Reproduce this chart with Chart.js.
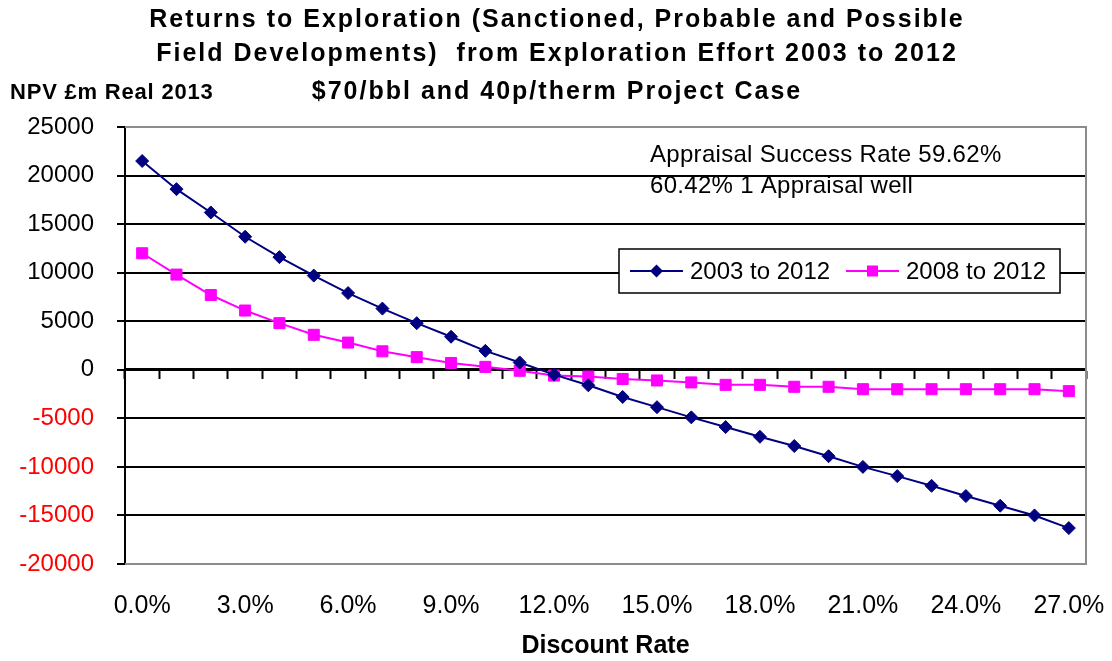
<!DOCTYPE html>
<html lang="en">
<head>
  <meta charset="UTF-8">
  <title>Returns to Exploration - NPV by Discount Rate</title>
  <script src="https://cdn.jsdelivr.net/npm/chart.js"></script>
  <style>
    body {
      margin: 0;
      background: #fff;
    }
    .chart-box {
      width: 1112px;
      height: 661px;
      position: relative;
    }
  </style>
</head>
<body>
<div class="chart-box"><canvas id="npvChart"></canvas></div>

<script>
  const rates = ['0.0%', '1.0%', '2.0%', '3.0%', '4.0%', '5.0%', '6.0%', '7.0%', '8.0%', '9.0%',
    '10.0%', '11.0%', '12.0%', '13.0%', '14.0%', '15.0%', '16.0%', '17.0%', '18.0%', '19.0%',
    '20.0%', '21.0%', '22.0%', '23.0%', '24.0%', '25.0%', '26.0%', '27.0%'];

  const npv2003 = [21500, 18600, 16200, 13700, 11600, 9700, 7900, 6300, 4800, 3400,
    1950, 750, -500, -1600, -2800, -3850, -4900, -5900, -6900, -7850,
    -8900, -10000, -10950, -11950, -13000, -14000, -15000, -16300];

  const npv2008 = [12000, 9800, 7700, 6100, 4800, 3600, 2800, 1900, 1300, 700,
    300, -100, -600, -700, -950, -1100, -1300, -1550, -1550, -1750,
    -1750, -2000, -2000, -2000, -2000, -2000, -2000, -2200];

  const seriesNames = ['2003 to 2012', '2008 to 2012'];
  const titleLines = ['Returns to Exploration (Sanctioned, Probable and Possible',
    'Field Developments)  from Exploration Effort 2003 to 2012',
    '$70/bbl and 40p/therm Project Case'];
  const yLabel = 'NPV £m Real 2013';
  const xLabel = 'Discount Rate';
  const noteLines = ['Appraisal Success Rate 59.62%', '60.42% 1 Appraisal well'];

  const FONT = 'Arial, "Liberation Sans", sans-serif';

  // frame, titles, legend box and the loose texts
  const extras = {
    id: 'extras',
    beforeDatasetsDraw(chart) {
      const { ctx, chartArea: a } = chart;
      ctx.save();
      ctx.strokeStyle = '#8c8c8c';
      ctx.lineWidth = 2;
      ctx.beginPath();
      ctx.moveTo(a.left, a.top);
      ctx.lineTo(a.right, a.top);
      ctx.lineTo(a.right, a.bottom);
      ctx.lineTo(a.left, a.bottom);
      ctx.stroke();
      ctx.restore();
    },
    afterDraw(chart) {
      const ctx = chart.ctx;
      ctx.save();
      ctx.fillStyle = '#000';
      ctx.textBaseline = 'middle';

      // title (the original is a bit letter-spaced)
      ctx.font = 'bold 25px ' + FONT;
      ctx.textAlign = 'center';
      ctx.letterSpacing = '2px';
      const ty = [20, 54, 92];
      titleLines.forEach((t, i) => ctx.fillText(t, 557, ty[i]));

      ctx.textAlign = 'left';
      ctx.font = 'bold 22px ' + FONT;
      ctx.letterSpacing = '0.8px';
      ctx.fillText(yLabel, 10, 93);

      ctx.font = '24px ' + FONT;
      ctx.letterSpacing = '0.3px';
      ctx.textBaseline = 'alphabetic';
      ctx.fillText(noteLines[0], 650, 162);
      ctx.fillText(noteLines[1], 650, 193);
      ctx.letterSpacing = '0px';

      // legend
      const bx = 619, by = 249, bw = 441, bh = 44;
      ctx.fillStyle = '#fff';
      ctx.fillRect(bx, by, bw, bh);
      ctx.strokeStyle = '#000';
      ctx.lineWidth = 1.5;
      ctx.strokeRect(bx, by, bw, bh);
      const cy = by + bh / 2;
      const starts = [630, 846];
      chart.data.datasets.forEach((ds, i) => {
        const x0 = starts[i];
        ctx.strokeStyle = ds.borderColor;
        ctx.lineWidth = 2;
        ctx.beginPath();
        ctx.moveTo(x0, cy);
        ctx.lineTo(x0 + 53, cy);
        ctx.stroke();
        ctx.fillStyle = ds.backgroundColor;
        const mx = x0 + 26.5;
        ctx.beginPath();
        if (ds.pointStyle === 'rectRot') {
          ctx.moveTo(mx, cy - 6.5);
          ctx.lineTo(mx + 6.5, cy);
          ctx.lineTo(mx, cy + 6.5);
          ctx.lineTo(mx - 6.5, cy);
          ctx.closePath();
        } else {
          ctx.rect(mx - 5.5, cy - 5.5, 11, 11);
        }
        ctx.fill();
        ctx.fillStyle = '#000';
        ctx.textBaseline = 'middle';
        ctx.font = '24px ' + FONT;
        ctx.fillText(ds.label, x0 + 60, cy + 1);
      });
      ctx.restore();
    }
  };

  new Chart(document.getElementById('npvChart'), {
    type: 'line',
    data: {
      labels: rates,
      datasets: [
        {
          label: seriesNames[0],
          data: npv2003,
          borderColor: '#000080',
          backgroundColor: '#000080',
          borderWidth: 2,
          pointStyle: 'rectRot',
          pointRadius: 6.5,
          pointBorderWidth: 1,
          tension: 0
        },
        {
          label: seriesNames[1],
          data: npv2008,
          borderColor: '#ff00ff',
          backgroundColor: '#ff00ff',
          borderWidth: 2,
          pointStyle: 'rect',
          pointRadius: 7.8,
          pointBorderWidth: 1,
          tension: 0
        }
      ]
    },
    options: {
      responsive: true,
      maintainAspectRatio: false,
      animation: false,
      layout: { padding: { top: 127, left: 0, right: 26, bottom: 0 } },
      plugins: {
        legend: { display: false },
        tooltip: { enabled: false },
        title: { display: false }
      },
      scales: {
        x: {
          type: 'category',
          offset: true,
          grid: {
            display: true,
            offset: true,
            drawOnChartArea: false,
            drawTicks: true,
            tickLength: 27,
            tickColor: 'rgba(0,0,0,0)'
          },
          border: { display: false },
          ticks: {
            autoSkip: false,
            maxRotation: 0,
            padding: 0,
            color: '#000',
            font: { family: FONT, size: 25 },
            callback: (v, i) => (i % 3 === 0 ? rates[i] : '')
          },
          title: {
            display: true,
            text: xLabel,
            color: '#000',
            font: { family: FONT, size: 25, weight: 'bold' },
            padding: { top: 0, bottom: 0 }
          },
          afterFit(scale) { scale.height = 97; }
        },
        x0: {
          type: 'category',
          axis: 'x',
          position: { y: 0 },
          offset: true,
          grid: {
            display: true,
            offset: true,
            drawOnChartArea: false,
            drawTicks: true,
            tickLength: 8,
            tickWidth: 2,
            tickColor: '#000'
          },
          border: { display: true, color: '#000', width: 3 },
          ticks: { display: false, autoSkip: false }
        },
        y: {
          min: -20000,
          max: 25000,
          ticks: {
            stepSize: 5000,
            padding: 23,
            font: { family: FONT, size: 24 },
            color: ctx => (ctx.tick.value < 0 ? '#ff0000' : '#000'),
            callback: v => String(v)
          },
          grid: {
            color: ctx => (ctx.tick && ctx.tick.value === 25000 ? '#8c8c8c' : '#000'),
            lineWidth: 2,
            drawTicks: true,
            tickLength: 8,
            tickColor: '#000',
            tickWidth: 2
          },
          border: { display: true, color: '#000', width: 2 },
          afterFit(scale) { scale.width = 125; }
        }
      }
    },
    plugins: [extras]
  });
</script>
</body>
</html>
